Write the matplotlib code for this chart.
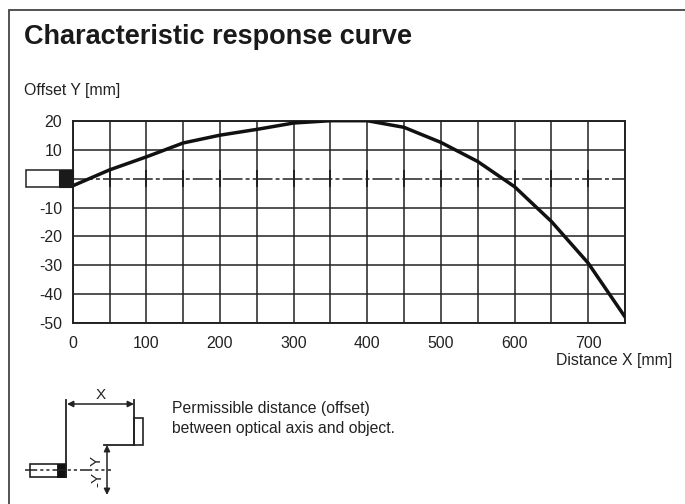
#!/usr/bin/env python3
"""Characteristic response curve of an optical sensor."""

import matplotlib
matplotlib.use('Agg')
import matplotlib.pyplot as plt
from matplotlib.patches import Rectangle

plt.rcParams['font.family'] = ['Liberation Sans', 'DejaVu Sans']
plt.rcParams['axes.unicode_minus'] = False

# values
distance_x = [0, 50, 100, 150, 200, 250, 300, 350, 400, 450, 500, 550, 600, 650, 700, 750]
offset_y = [-2.5, 3, 7.5, 12.3, 15, 17, 19.2, 20, 20, 17.7, 12.5, 5.9, -2.8, -14.8, -29.2, -47.8]
x_ticks = [0, 100, 200, 300, 400, 500, 600, 700]
y_ticks = [20, 10, -10, -20, -30, -40, -50]
x_grid = list(range(0, 751, 50))
y_grid = [20, 10, -10, -20, -30, -40, -50]

W, H = 685, 504
INK = '#222222'
CENTER_DASH = (0, (13, 2, 2.6, 2))

fig = plt.figure(figsize=(W / 100, H / 100), dpi=100)

# full figure overlay in pixel coordinates for the frame, icons and text
px = fig.add_axes([0, 0, 1, 1], zorder=3)
px.set_xlim(0, W)
px.set_ylim(H, 0)
px.axis('off')
px.patch.set_alpha(0)

# chart
ax = fig.add_axes([72.7 / W, 1 - 323.3 / H, (625 - 72.7) / W, (323.3 - 120.7) / H], zorder=2)
ax.set_xlim(0, 750)
ax.set_ylim(-50, 20)
ax.set_xticks(x_grid, minor=True)
ax.set_yticks(y_grid, minor=True)
ax.set_xticks(x_ticks)
ax.set_yticks(y_ticks)
ax.grid(True, which='both', color=INK, lw=1.1)
ax.set_axisbelow(True)
ax.tick_params(which='both', length=0)
ax.tick_params(axis='x', labelsize=11.4, pad=9, colors=INK)
ax.tick_params(axis='y', labelsize=11.4, pad=7.5, colors=INK)
for spine in ax.spines.values():
    spine.set_linewidth(1.4)
    spine.set_color(INK)

ax.plot([0, 750], [0, 0], color=INK, lw=1.1, ls=CENTER_DASH, zorder=2)
ax.vlines(x_grid, -2.8, 2.8, color=INK, lw=1.4, zorder=2)
ax.plot(distance_x, offset_y, color='#111111', lw=2.5, zorder=4)

# outer frame
px.plot([9, 9, W], [H, 10, 10], color='#444444', lw=1.3, solid_joinstyle='miter')

# texts
px.text(24, 37, 'Characteristic response curve', fontsize=19.5, fontweight='bold',
        color='#1a1a1a', ha='left', va='center')
px.text(24, 91, 'Offset Y [mm]', fontsize=11.4, color=INK, ha='left', va='center')
px.text(672, 361, 'Distance X [mm]', fontsize=11.4, color=INK, ha='right', va='center')
px.text(172, 409, 'Permissible distance (offset)', fontsize=11.3, color=INK, ha='left', va='center')
px.text(172, 428, 'between optical axis and object.', fontsize=11.3, color=INK, ha='left', va='center')

# sensor icon on the chart
px.add_patch(Rectangle((26, 169.5), 47, 17.5, fc='white', ec=INK, lw=1.1))
px.add_patch(Rectangle((59, 169.5), 14, 17.5, fc='#1a1a1a', ec='#1a1a1a', lw=0.8))

# small diagram below
px.add_patch(Rectangle((30, 464), 36, 13, fc='white', ec=INK, lw=1.2))
px.plot([25, 111], [470, 470], color=INK, lw=1.1, ls=(0, (8, 2, 2, 2, 2, 2)))
px.add_patch(Rectangle((57.5, 464), 9, 13, fc='#111111', ec='#111111', lw=0.6))
px.plot([66.5, 66.5], [400, 477], color=INK, lw=1.3)
px.plot([134, 134], [400, 445], color=INK, lw=1.3)
px.add_patch(Rectangle((134, 418), 9, 27, fc='white', ec=INK, lw=1.2))
px.plot([104, 134], [445, 445], color=INK, lw=1.3)
arrow = dict(arrowstyle='<|-|>', color=INK, lw=1.1, shrinkA=0, shrinkB=0, mutation_scale=9)
px.annotate('', xy=(67, 404), xytext=(134, 404), arrowprops=arrow)
px.annotate('', xy=(107, 445), xytext=(107, 495), arrowprops=arrow)
px.text(101, 395, 'X', fontsize=11, color=INK, ha='center', va='center')
px.text(97, 461, 'Y', fontsize=11, color=INK, ha='center', va='center', rotation=90)
px.text(97, 479, '-Y', fontsize=11, color=INK, ha='center', va='center', rotation=90)

fig.savefig('out.png', dpi=100)
